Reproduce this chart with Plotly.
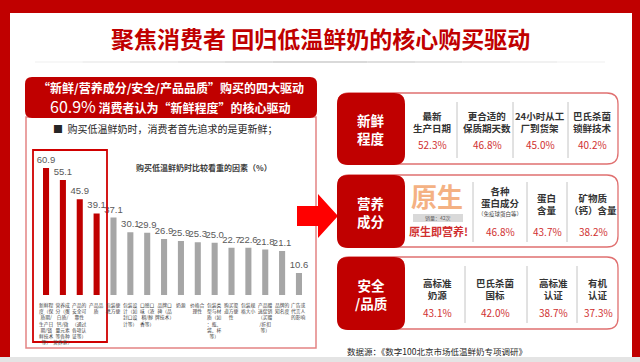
import plotly.graph_objects as go

# ---------------- data ----------------
categories = [
    "新鲜程<br>度（保<br>质期/<br>生产日<br>期/锁<br>鲜技术<br>等）",
    "营养成<br>分（蛋<br>白质/<br>钙/微<br>量元素<br>等各种<br>营养素）",
    "产品的<br>安全可<br>靠性<br>（通过<br>各项认<br>证等）",
    "产品品<br>质",
    "包装便<br>携方便",
    "包装设<br>计（如<br>封口设<br>计等）",
    "口感口<br>味（浓<br>稠/醇<br>香等）",
    "品牌口<br>碑（品<br>牌技术）",
    "奶源",
    "价格合<br>理性",
    "包装类<br>型与材<br>质（如<br>：瓶、<br>袋、杯<br>等）",
    "购买渠<br>道方便<br>性",
    "包装规<br>格大小",
    "产品赠<br>送促销<br>（买赠<br>/折扣<br>等）",
    "品牌的<br>知名度",
    "广告或<br>代言人<br>的影响",
]
values = [60.9, 55.1, 45.9, 39.1, 37.1, 30.1, 29.9, 26.9, 25.9, 25.3, 25.0,
          22.7, 22.6, 21.8, 21.1, 10.6]
highlight_n = 4

title_text = "聚焦消费者 回归低温鲜奶的核心购买驱动"
header_line1 = "“新鲜/营养成分/安全/产品品质”购买的四大驱动"
header_pct = "60.9%"
header_line2 = " 消费者认为“新鲜程度”的核心驱动"
bullet_text = "■  购买低温鲜奶时，消费者首先追求的是更新鲜；"
chart_title = "购买低温鲜奶时比较看重的因素（%）"

fresh_label = "新鲜<br>程度"
fresh_items = ["最新<br>生产日期", "更合适的<br>保质期天数", "24小时从工<br>厂到货架", "巴氏杀菌<br>锁鲜技术"]
fresh_pcts = ["52.3%", "46.8%", "45.0%", "40.2%"]

nutri_label = "营养<br>成分"
nutri_items = ["各种<br>蛋白成分", "蛋白<br>含量", "矿物质<br>（钙）含量"]
nutri_note = "（免疫球蛋白等）"
nutri_pcts = ["46.8%", "43.7%", "38.2%"]
nutri_big = "原生"
nutri_badge = "销量：42次"
nutri_slogan = "原生即营养!"

safe_label = "安全<br>/品质"
safe_items = ["高标准<br>奶源", "巴氏杀菌<br>国标", "高标准<br>认证", "有机<br>认证"]
safe_pcts = ["43.1%", "42.0%", "38.7%", "37.3%"]

source_text = "数据源：《数字100北京市场低温鲜奶专项调研》"

# ---------------- helpers ----------------
W, H = 640, 362
CJK = "Noto Sans CJK SC"
RED = "#c00000"


def px(x):
    return x / W


def py(y):
    return 1 - y / H


def pt(x, y):
    return f"{px(x):.5f},{py(y):.5f}"


def rrect_path(x0, y0, x1, y1, r):
    return (f"M {pt(x0 + r, y0)} L {pt(x1 - r, y0)} Q {pt(x1, y0)} {pt(x1, y0 + r)} "
            f"L {pt(x1, y1 - r)} Q {pt(x1, y1)} {pt(x1 - r, y1)} "
            f"L {pt(x0 + r, y1)} Q {pt(x0, y1)} {pt(x0, y1 - r)} "
            f"L {pt(x0, y0 + r)} Q {pt(x0, y0)} {pt(x0 + r, y0)} Z")


shapes = []
annotations = []


def rect(x0, y0, x1, y1, fill=None, line=None, lw=1):
    shapes.append(dict(type="rect", xref="paper", yref="paper",
                       x0=px(x0), x1=px(x1), y0=py(y1), y1=py(y0),
                       fillcolor=fill if fill else "rgba(0,0,0,0)",
                       line=dict(color=line if line else "rgba(0,0,0,0)", width=lw if line else 0),
                       layer="above"))


def rrect(x0, y0, x1, y1, r, fill=None, line=None, lw=1):
    shapes.append(dict(type="path", xref="paper", yref="paper",
                       path=rrect_path(x0, y0, x1, y1, r),
                       fillcolor=fill if fill else "rgba(0,0,0,0)",
                       line=dict(color=line if line else "rgba(0,0,0,0)", width=lw if line else 0),
                       layer="above"))


def line(x0, y0, x1, y1, color, lw=1, dash="solid"):
    shapes.append(dict(type="line", xref="paper", yref="paper",
                       x0=px(x0), x1=px(x1), y0=py(y0), y1=py(y1),
                       line=dict(color=color, width=lw, dash=dash), layer="above"))


def text(t, x, y, size, color="#333333", bold=False, family=CJK, xanchor="center"):
    annotations.append(dict(text=f"<b>{t}</b>" if bold else t, xref="paper", yref="paper",
                            x=px(x), y=py(y), xanchor=xanchor, yanchor="middle",
                            showarrow=False, align="center", borderpad=0,
                            font=dict(size=size, color=color, family=family)))


# ---------------- frame ----------------
rect(0, 0, 640, 13, fill=RED)
rect(0, 0, 10, 357, fill=RED)
rect(632, 0, 640, 357, fill=RED)
rect(0, 357, 640, 362, fill="#e4e4e4")

text(title_text, 320, 38, 23, RED, bold=True)
segs = 12
for i in range(segs):
    xa = 35 + (605 - 35) * i / segs
    xb = 35 + (605 - 35) * (i + 1) / segs
    d = abs((i + 0.5) / segs - 0.5) * 2
    g = int(200 + 50 * d)
    line(xa, 62, xb, 62, f"rgb({g},{g},{g})", 1.5)

# ---------------- left panel ----------------
rect(26, 117, 316, 348, line="#e48484", lw=1.5)
rrect(25, 77, 317, 118, 7, fill=RED)
text(header_line1, 171, 87, 12, "white", bold=True)
annotations.append(dict(
    text=f"<span style='font-size:16px'>{header_pct}</span><b>{header_line2}</b>",
    xref="paper", yref="paper", x=px(170), y=py(106), xanchor="center", yanchor="middle",
    showarrow=False, borderpad=0, font=dict(size=12, color="white", family=CJK)))
text(bullet_text, 52, 128, 10, "#262626", xanchor="left")
rect(33, 150, 107, 342, line="#d00000", lw=1.8)
text(chart_title, 204, 168, 8, "#404040", bold=True)

# bar chart
fig = go.Figure()
xs = list(range(len(values)))
colors = [RED if i < highlight_n else "#a6a6a6" for i in xs]
fig.add_trace(go.Bar(
    x=xs, y=values, width=0.36, marker=dict(color=colors, line=dict(width=0)),
    text=[f"{v:.1f}" for v in values], textposition="outside", constraintext="none",
    cliponaxis=False, textfont=dict(size=9.5, color="#595959", family="Liberation Sans"),
    hoverinfo="skip"))

for i, c in enumerate(categories):
    annotations.append(dict(text=c, xref="x", yref="paper", x=i, y=py(300),
                            xanchor="center", yanchor="top", showarrow=False, align="center",
                            borderpad=0,
                            font=dict(size=4.8, color="#404040", family=CJK)))

# arrow
shapes.append(dict(type="path", xref="paper", yref="paper",
                   path=(f"M {pt(297, 206)} L {pt(318, 206)} L {pt(318, 194)} L {pt(338, 216)} "
                         f"L {pt(318, 238)} L {pt(318, 226)} L {pt(297, 226)} Z"),
                   fillcolor="#ff0000", line=dict(width=0), layer="above"))

# ---------------- right panel ----------------
def section(top, bottom, label):
    rrect(338, top, 618, bottom - 1, 11, line="#e07070", lw=1.3)
    rrect(337, top, 405, bottom, 11, fill=RED)
    mid = (top + bottom) / 2
    text(label, 371, mid, 13.5, "white", bold=True)


ITEM = "#333333"
PCT = "#d03030"

# section 1: freshness
section(93, 165, fresh_label)
for cx, it, p in zip([432, 487, 540, 592], fresh_items, fresh_pcts):
    text(it, cx, 122, 9.5, ITEM, bold=True)
    text(p, cx, 144, 10, PCT)
for dx in [457, 513, 568]:
    line(dx, 102, dx, 158, "#c4c4c4", 1)

# section 2: nutrition
section(175, 248, nutri_label)
text(nutri_big, 437, 195, 26, "#f4b183", bold=True)
rect(413, 214, 463, 222, fill="#d9d9d9")
text(nutri_badge, 438, 218, 5, "#595959")
text(nutri_slogan, 438, 231, 11, PCT, bold=True)
nutri_cx = [500, 547, 593]
text(nutri_items[0], nutri_cx[0], 197, 9.5, ITEM, bold=True)
text(nutri_note, nutri_cx[0], 214, 5.5, "#404040")
for cx, it in zip(nutri_cx[1:], nutri_items[1:]):
    text(it, cx, 204, 9.5, ITEM, bold=True)
for cx, p in zip(nutri_cx, nutri_pcts):
    text(p, cx, 231, 10, PCT)
for dx in [473, 527, 567]:
    line(dx, 182, dx, 242, "#c4c4c4", 1)

# section 3: safety / quality
section(257, 330, safe_label)
for cx, it, p in zip([437, 495, 553, 598], safe_items, safe_pcts):
    text(it, cx, 289, 9.5, ITEM, bold=True)
    text(p, cx, 312, 10, PCT)
for dx in [465, 527, 577]:
    line(dx, 266, dx, 323, "#c4c4c4", 1)

text(source_text, 346, 351, 8.5, "#262626", xanchor="left")

# ---------------- layout ----------------
x_left, x_right = 37.6, 307.4
y_base, y_top = 295, 149
fig.update_layout(
    width=W, height=H, margin=dict(l=0, r=0, t=0, b=0),
    paper_bgcolor="white", plot_bgcolor="rgba(0,0,0,0)", showlegend=False,
    xaxis=dict(domain=[px(x_left), px(x_right)], range=[-0.5, len(values) - 0.5],
               visible=False, fixedrange=True),
    yaxis=dict(domain=[py(y_base), py(y_top)], range=[0, 70], visible=False, fixedrange=True),
    shapes=shapes, annotations=annotations, bargap=0.6,
)

fig.write_html("out.html")
